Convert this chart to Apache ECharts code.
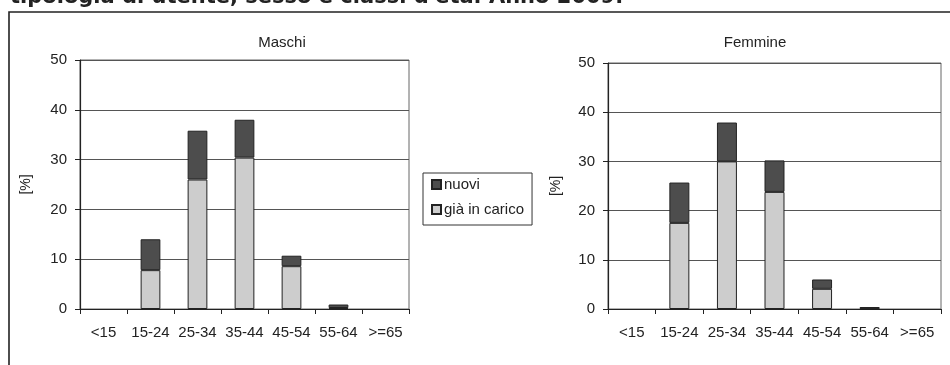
<!DOCTYPE html>
<html>
<head>
<meta charset="utf-8">
<script src="https://cdn.jsdelivr.net/npm/echarts@6/dist/echarts.min.js"></script>
<style>html,body{margin:0;padding:0;background:#fff;}#c{width:950px;height:365px;}</style>
</head>
<body>
<div id="c"></div>
<script>
const categories = ['<15', '15-24', '25-34', '35-44', '45-54', '55-64', '>=65'];
const maschiGiaInCarico = [0, 7.8, 26.0, 30.4, 8.6, 0.2, 0];
const maschiNuovi = [0, 6.2, 9.8, 7.6, 2.1, 0.7, 0];
const femmineGiaInCarico = [0, 17.5, 30.0, 23.8, 4.1, 0.1, 0];
const femmineNuovi = [0, 8.2, 7.9, 6.4, 1.9, 0.3, 0];
const yTicks = { min: 0, max: 50, interval: 10 };
const pageTitle = "tipologia di utente, sesso e classi d'età. Anno 2009.";
const chartTitles = ['Maschi', 'Femmine'];
const seriesNames = ['nuovi', 'già in carico'];

const FONT = '"Liberation Sans", Arial, sans-serif';
const DARK = '#4d4d4d';
const LIGHT = '#cdcdcd';

const chart = echarts.init(document.getElementById('c'), null, { renderer: 'canvas' });

function xAxis(gi) {
  return {
    type: 'category', gridIndex: gi, data: categories,
    axisLine: { lineStyle: { color: '#222', width: 1.2 } },
    axisTick: { show: true, length: 5, lineStyle: { color: '#222' } },
    axisLabel: { color: '#222', fontFamily: FONT, fontSize: 15, margin: 16, interval: 0 }
  };
}
function yAxis(gi, gap) {
  return {
    type: 'value', gridIndex: gi, min: yTicks.min, max: yTicks.max, interval: yTicks.interval,
    name: '[%]', nameLocation: 'middle', nameGap: gap,
    nameTextStyle: { color: '#222', fontFamily: FONT, fontSize: 14 },
    axisLine: { show: true, lineStyle: { color: '#222', width: 1.2 } },
    axisTick: { show: true, length: 5, lineStyle: { color: '#222' } },
    axisLabel: { color: '#222', fontFamily: FONT, fontSize: 15, margin: 13 },
    splitLine: { show: true, lineStyle: { color: '#555', width: 1 } }
  };
}
function bar(name, data, gi, color) {
  return {
    name: name, type: 'bar', stack: 's' + gi, xAxisIndex: gi, yAxisIndex: gi,
    data: data.map(v => (v === 0 ? null : v)), barWidth: '42%',
    itemStyle: { color: color, borderColor: '#222', borderWidth: 1 }
  };
}

chart.setOption({
  animation: false,
  backgroundColor: '#fff',
  title: [
    { text: chartTitles[0], left: 277, top: 30, textAlign: 'center',
      textStyle: { fontFamily: FONT, fontSize: 15, fontWeight: 'normal', color: '#222' } },
    { text: chartTitles[1], left: 750, top: 30, textAlign: 'center',
      textStyle: { fontFamily: FONT, fontSize: 15, fontWeight: 'normal', color: '#222' } }
  ],
  graphic: [
    { type: 'rect', shape: { x: 9, y: 12, width: 1000, height: 400 },
      style: { fill: 'none', stroke: '#222', lineWidth: 1.6 }, silent: true },
    { type: 'text', left: 10, top: -13,
      style: { text: pageTitle, font: 'bold 21px "DejaVu Sans", Verdana, sans-serif', fill: '#222' } }
  ],
  legend: {
    data: seriesNames,
    orient: 'vertical', left: 423, top: 173,
    backgroundColor: '#fff',
    borderColor: '#333', borderWidth: 1,
    padding: [4, 8, 8, 8], itemGap: 10,
    itemWidth: 9, itemHeight: 9, icon: 'rect',
    textStyle: { fontFamily: FONT, fontSize: 15, color: '#222', padding: [0, 0, 0, -2] }
  },
  grid: [
    { left: 80, right: 541, top: 60, bottom: 56, show: true, borderColor: '#666', borderWidth: 1 },
    { left: 608, right: 9, top: 63, bottom: 56, show: true, borderColor: '#666', borderWidth: 1 }
  ],
  xAxis: [xAxis(0), xAxis(1)],
  yAxis: [yAxis(0, 47), yAxis(1, 45)],
  series: [
    bar(seriesNames[1], maschiGiaInCarico, 0, LIGHT),
    bar(seriesNames[0], maschiNuovi, 0, DARK),
    bar(seriesNames[1], femmineGiaInCarico, 1, LIGHT),
    bar(seriesNames[0], femmineNuovi, 1, DARK)
  ]
});
</script>
</body>
</html>
